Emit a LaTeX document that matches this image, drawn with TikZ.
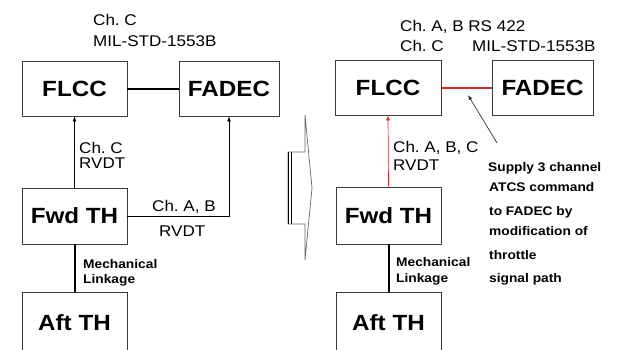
\documentclass[tikz,border=0pt]{standalone}
\usepackage{fontspec}
\setmainfont[FakeStretch=1.1]{Liberation Sans}
\usetikzlibrary{arrows.meta}
\definecolor{sigred}{RGB}{214,40,40}
\definecolor{frame}{RGB}{60,60,60}
\frenchspacing
\begin{document}
\begin{tikzpicture}[x=1pt,y=-1pt,
  box/.style={draw=frame, line width=0.8pt, fill=white, inner sep=0pt,
    font=\bfseries\fontsize{22}{22}\selectfont, minimum height=55pt},
  lbl/.style={font=\fontsize{15.5}{15.5}\selectfont, anchor=base west, inner sep=0pt},
  sm/.style={font=\bfseries\fontsize{12.5}{12.5}\selectfont, anchor=base west, inner sep=0pt},
  arr/.style={-{Latex[length=5pt,width=4pt]}, line width=0.8pt},
  buswire/.style={line width=2pt},
  mechwire/.style={line width=2pt}
]
\useasboundingbox (0,0) rectangle (620,349);
\clip (0,0) rectangle (620,349);

% ---------- left diagram ----------
\node[box, minimum width=105pt] (flccL) at (74.5,88.5) {FLCC};
\node[box, minimum width=100pt] (fadecL) at (229,88.5) {FADEC};
\node[box, minimum width=105pt, minimum height=56pt] (fwdL) at (74.5,216) {Fwd TH};
\node[box, minimum width=105pt, minimum height=62pt] (aftL) at (74.5,323) {Aft TH};

\draw[buswire, black] (flccL.east) -- (fadecL.west);
\draw[arr] (fwdL.north) -- (flccL.south);
\draw[arr] (fwdL.east) -- (fadecL.south |- fwdL.east) -- (fadecL.south);
\draw[mechwire] (fwdL.south) -- (aftL.north);

\node[lbl] (l1) at (93,25) {Ch. C};
\node[lbl] (l2) at (93,46) {MIL-STD-1553B};
\node[lbl] (l3) at (79,153) {Ch. C};
\node[lbl] (l4) at (79,168) {RVDT};
\node[lbl] (l5) at (152,211) {Ch. A, B};
\node[lbl] (l6) at (159,236) {RVDT};
\node[sm] (l7) at (83,268) {Mechanical};
\node[sm] (l8) at (83,283.5) {Linkage};

% ---------- big transition arrow ----------
\draw[draw=black!60, line width=0.7pt, fill=white]
  (305,115) -- (305,152) -- (288,152) -- (288,224) -- (305,224) -- (305,260)
  -- (312,188) -- cycle;
\draw[line width=1.6pt] (288.5,152) -- (288.5,224);
\draw[line width=0.6pt] (290.8,152) -- (290.8,224);

% ---------- right diagram ----------
\node[box, minimum width=106pt] (flccR) at (388,87.5) {FLCC};
\node[box, minimum width=101pt] (fadecR) at (542.5,87.5) {FADEC};
\node[box, minimum width=105pt, minimum height=57pt] (fwdR) at (388.5,215.5) {Fwd TH};
\node[box, minimum width=105pt, minimum height=62pt] (aftR) at (388.5,323) {Aft TH};

\draw[buswire, draw=sigred] (flccR.east) -- (fadecR.west);
\draw[arr, sigred, line width=0.7pt] (fwdR.north) -- (flccR.south);
\draw[mechwire] (fwdR.south) -- (aftR.north);

\coordinate (ptrS) at (497,143);
\coordinate (ptrE) at (468,95);
\draw[arr, black!80, line width=0.7pt] (ptrS) -- (ptrE);

\node[lbl] (r1) at (400,31) {Ch. A, B RS 422};
\node[lbl] (r2) at (400,51) {Ch. C};
\node[lbl] (r3) at (472,51) {MIL-STD-1553B};
\node[lbl] (r4) at (393,152) {Ch. A, B, C};
\node[lbl] (r5) at (393,170) {RVDT};
\node[sm] (r6) at (396,266) {Mechanical};
\node[sm] (r7) at (396,282) {Linkage};

\node[sm] (s1) at (488,171) {Supply 3 channel};
\node[sm] (s2) at (489,191.5) {ATCS command};
\node[sm] (s3) at (489,215) {to FADEC by};
\node[sm] (s4) at (489,235.5) {modification of};
\node[sm] (s5) at (489,259.5) {throttle};
\node[sm] (s6) at (489,282) {signal path};
\end{tikzpicture}
\end{document}
